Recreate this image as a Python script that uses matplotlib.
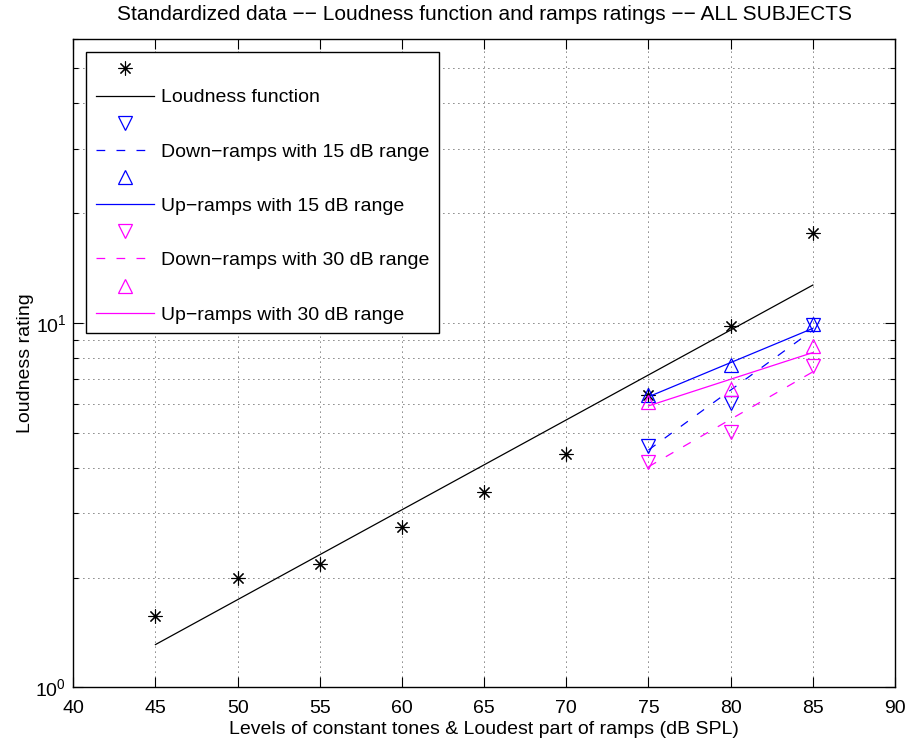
import numpy as np
import matplotlib.pyplot as plt

plt.rcParams['font.family'] = ['Liberation Sans', 'DejaVu Sans']
plt.rcParams['mathtext.fontset'] = 'custom'
plt.rcParams['mathtext.rm'] = 'Liberation Sans'

# constant tones: levels and loudness ratings
tone_levels = [45, 50, 55, 60, 65, 70, 75, 80, 85]
tone_ratings = [1.57, 1.99, 2.18, 2.75, 3.43, 4.36, 6.34, 9.8, 17.7]
# fitted loudness function (straight line on log axis)
fit_levels = [45, 85]
fit_ratings = [1.31, 12.7]

# ramps: loudest part levels
ramp_levels = [75, 80, 85]
ramp_fit_levels = [75, 85]
down15 = [4.59, 6.04, 9.86]
down15_fit = [4.48, 9.55]
up15 = [6.34, 7.66, 9.9]
up15_fit = [6.27, 9.66]
down30 = [4.16, 5.01, 7.61]
down30_fit = [4.03, 7.34]
up30 = [6.07, 6.57, 8.63]
up30_fit = [5.92, 8.29]

labels = ['', 'Loudness function',
          '', 'Down\u2212ramps with 15 dB range',
          '', 'Up\u2212ramps with 15 dB range',
          '', 'Down\u2212ramps with 30 dB range',
          '', 'Up\u2212ramps with 30 dB range']

BLUE = '#0000ff'
MAG = '#ff00ff'

fig = plt.figure(figsize=(9.08, 7.42), dpi=100)
ax = fig.add_axes([0.0807, 0.0737, 0.9050, 0.8733])

star = (8, 2, 0)
tri_kw = dict(linestyle='none', markersize=10, markerfacecolor='none', markeredgewidth=0.9)
dash = (7, 9)

h = []
h += ax.plot(tone_levels, tone_ratings, linestyle='none', marker=star, color='k',
             markersize=10, markeredgewidth=0.8)
h += ax.plot(fit_levels, fit_ratings, color='k', lw=0.9)
h += ax.plot(ramp_levels, down15, marker='v', color=BLUE, **tri_kw)
h += ax.plot(ramp_fit_levels, down15_fit, color=BLUE, lw=0.9, dashes=dash)
h += ax.plot(ramp_levels, up15, marker='^', color=BLUE, **tri_kw)
h += ax.plot(ramp_fit_levels, up15_fit, color=BLUE, lw=0.9)
h += ax.plot(ramp_levels, down30, marker='v', color=MAG, **tri_kw)
h += ax.plot(ramp_fit_levels, down30_fit, color=MAG, lw=0.9, dashes=dash)
h += ax.plot(ramp_levels, up30, marker='^', color=MAG, **tri_kw)
h += ax.plot(ramp_fit_levels, up30_fit, color=MAG, lw=0.9)

ax.set_yscale('log')
ax.set_xlim(40, 90)
ax.set_ylim(1, 60)
ax.set_xticks(np.arange(40, 91, 5))

ax.tick_params(which='both', direction='in', top=True, right=True, labelsize=14, width=0.8)
ax.tick_params(which='major', length=7)
ax.tick_params(axis='x', which='major', pad=9)
ax.tick_params(axis='y', which='major', pad=5)
ax.tick_params(which='minor', length=3.5)
ax.tick_params(axis='x', which='minor', bottom=False, top=False)

grid_kw = dict(color='k', linewidth=0.6, linestyle=(0, (1, 5)))
ax.grid(True, which='major', axis='both', **grid_kw)
ax.grid(True, which='minor', axis='y', **grid_kw)
for s in ax.spines.values():
    s.set_linewidth(1.0)

ax.set_title('Standardized data \u2212\u2212 Loudness function and ramps ratings \u2212\u2212 ALL SUBJECTS',
             fontsize=15, pad=14)
ax.set_xlabel('Levels of constant tones & Loudest part of ramps (dB SPL)', fontsize=14, labelpad=3)
ax.set_ylabel('Loudness rating', fontsize=14, labelpad=1)

leg = ax.legend(h, labels, loc='upper left', fontsize=14, fancybox=False,
                edgecolor='k', framealpha=1, borderaxespad=0.65, borderpad=0.5,
                labelspacing=0.49, handlelength=3.0, handletextpad=0.36)
leg.get_frame().set_linewidth(1.0)

fig.savefig('out.png', dpi=100)
